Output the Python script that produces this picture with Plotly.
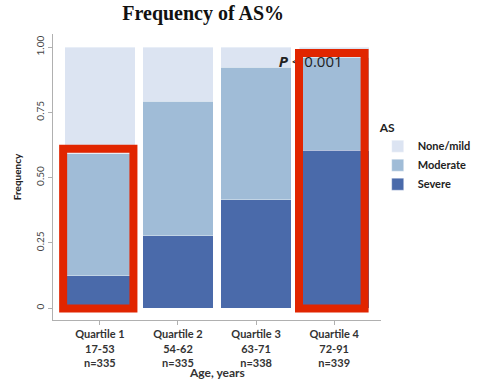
import plotly.graph_objects as go

categories = ["Quartile 1<br>17-53<br>n=335", "Quartile 2<br>54-62<br>n=335",
              "Quartile 3<br>63-71<br>n=338", "Quartile 4<br>72-91<br>n=339"]
severe = [0.123, 0.277, 0.415, 0.604]
moderate = [0.469, 0.515, 0.508, 0.356]
none_mild = [0.408, 0.208, 0.077, 0.040]
y_ticks = [0, 0.25, 0.5, 0.75, 1.0]
y_tick_labels = ["0", "0.25", "0.50", "0.75", "1.00"]
highlight_idx = [0, 3]
highlight_top = [0.61, 0.977]
highlight_span = [(-0.47, 0.43), (-0.45, 0.39)]

colors = {"Severe": "#4a6aaa", "Moderate": "#a0bcd7", "None/mild": "#dce4f2"}
xpos = list(range(len(categories)))

fig = go.Figure()
for name, vals in [("Severe", severe), ("Moderate", moderate), ("None/mild", none_mild)]:
    fig.add_trace(go.Bar(x=xpos, y=vals, name=name, width=0.9,
                         marker=dict(color=colors[name], line=dict(width=0.6, color="rgba(255,255,255,0.6)"))))

fig.add_trace(go.Scatter(x=[2.7], y=[0.938], mode="text",
                         text=["<b><i>P</i></b> &lt; 0.001"],
                         textfont=dict(family="Open Sans", size=15, color="#222"),
                         showlegend=False, hoverinfo="skip"))

for i, top, (a, b) in zip(highlight_idx, highlight_top, highlight_span):
    fig.add_shape(type="rect", xref="x", yref="y", x0=i + a, x1=i + b,
                  y0=-0.002, y1=top, line=dict(color="#e12500", width=8), layer="above")

fig.add_annotation(text="<b>Age, years</b>", xref="paper", yref="paper", x=0.5, y=-0.185,
                   xanchor="center", yanchor="middle", showarrow=False,
                   font=dict(family="Lato", size=12, color="#333"))

fig.update_layout(
    width=477, height=381,
    margin=dict(l=53, r=96, t=34, b=61, autoexpand=False),
    barmode="stack",
    plot_bgcolor="white", paper_bgcolor="white",
    title=dict(text="<b>Frequency of AS%</b>", x=0.426, xanchor="center", y=0.965, yanchor="middle",
               font=dict(family="Liberation Serif", size=20, color="#111")),
    legend=dict(title=dict(text="<b>AS</b>", font=dict(size=12, color="#222")),
                x=0.99, xanchor="left", y=0.713, yanchor="top", traceorder="reversed",
                itemwidth=30,
                font=dict(family="Lato", size=11, color="#222", weight="bold")),
    font=dict(family="Lato"),
    showlegend=True,
)
fig.update_xaxes(range=[-0.6, 3.6], tickvals=xpos, ticktext=categories, automargin=False,
                 tickfont=dict(family="Lato", size=11, color="#333", weight="bold"),
                 showline=True, linecolor="#b0b0b0", linewidth=1, ticks="outside", ticklen=4,
                 tickcolor="#b0b0b0", showgrid=False, zeroline=False)
fig.update_yaxes(range=[-0.046, 1.05], tickvals=y_ticks, ticktext=y_tick_labels, tickangle=-90,
                 automargin=False,
                 tickfont=dict(family="Lato", size=10, color="#444"),
                 showline=True, linecolor="#b0b0b0", linewidth=1, ticks="outside", ticklen=4,
                 tickcolor="#b0b0b0", showgrid=False, zeroline=False,
                 title=dict(text="<b>Frequency</b>", font=dict(family="Lato", size=10, color="#222"), standoff=10))

fig.write_html("out.html")
